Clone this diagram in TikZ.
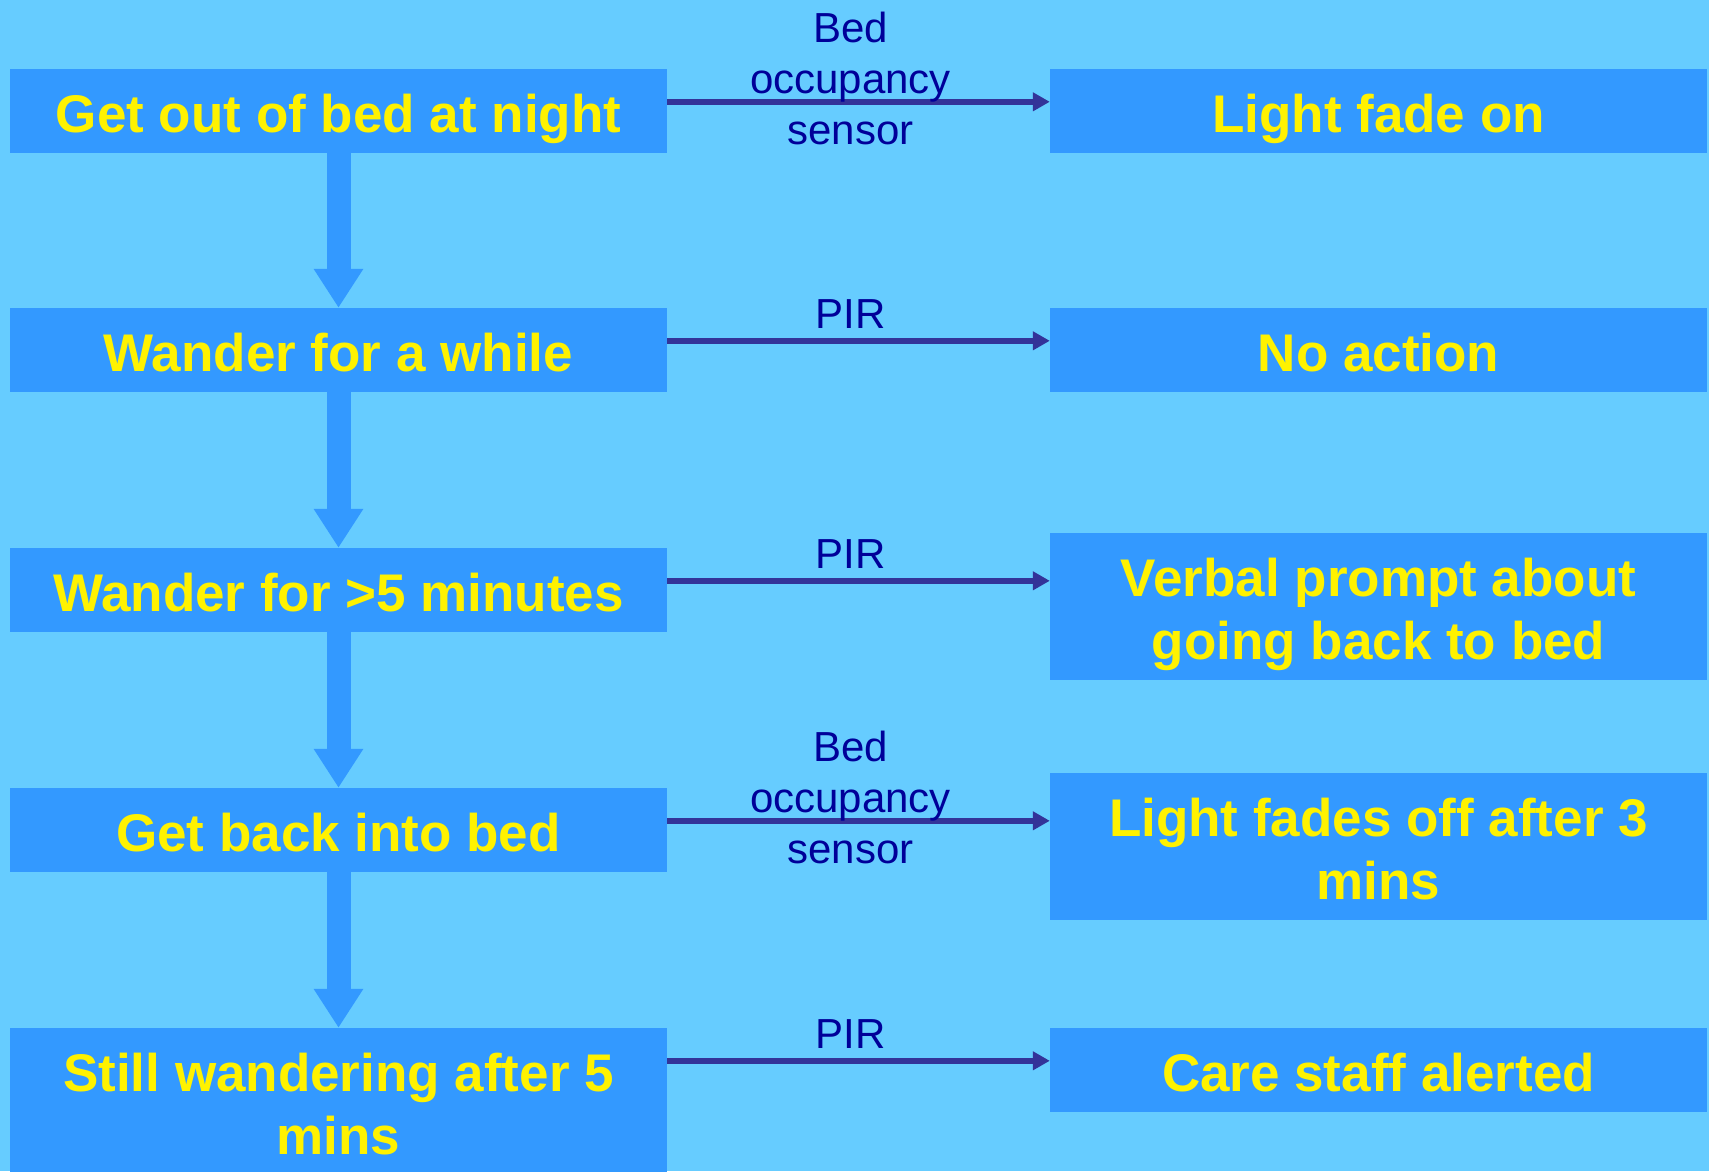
\documentclass[tikz,border=0pt]{standalone}
\usepackage{fontspec}
\setmainfont{Liberation Sans}
\usetikzlibrary{arrows.meta,positioning,calc}
\definecolor{bgblue}{HTML}{66CCFF}
\definecolor{boxblue}{HTML}{3399FF}
\definecolor{lblblue}{HTML}{000099}
\definecolor{linkblue}{HTML}{333399}

\begin{document}
\begin{tikzpicture}[%
    x=1pt, y=-1pt,
    box/.style={fill=boxblue, text=yellow, font={\fontsize{53}{63}\selectfont\bfseries},
        minimum width=657pt, minimum height=84pt, inner sep=0pt, align=center,
        text height=55pt, text depth=13pt},
    tall/.style={box, minimum height=147pt, text height=118pt},
    lbl/.style={text=lblblue, font={\fontsize{42}{51}\selectfont}, align=center, inner sep=0pt, xshift=-8pt},
    link/.style={draw=linkblue, line width=6pt, -{Triangle[length=17pt,width=18pt]}},
    down/.style={draw=boxblue, line width=24pt, -{Triangle[length=39pt,width=47pt]}}
    ]

    \fill[bgblue] (0,0) rectangle (1709,1171);
    \useasboundingbox (0,0) rectangle (1709,1171);

    % what the resident does
    \node[box]  (get)    at (338.5,111)    {Get out of bed at night};
    \node[box]  (wander) at (338.5,350)    {Wander for a while};
    \node[box]  (long)   at (338.5,590)    {Wander for >5 minutes};
    \node[box]  (back)   at (338.5,830)    {Get back into bed};
    \node[tall] (still)  at (338.5,1101.5) {Still wandering after 5\\mins};

    % what the system does
    \node[box]  (light)   at (1378.5,111)   {Light fade on};
    \node[box]  (noact)   at (1378.5,350)   {No action};
    \node[tall] (prompt)  at (1378.5,606.5) {Verbal prompt about\\going back to bed};
    \node[tall] (fadeoff) at (1378.5,846.5) {Light fades off after 3\\mins};
    \node[box]  (alert)   at (1378.5,1070)  {Care staff alerted};

    \draw[down] (get) -- (wander);
    \draw[down] (wander) -- (long);
    \draw[down] (long) -- (back);
    \draw[down] (back) -- (still);

    \coordinate (s1) at ([yshift=-33pt]get.north east);
    \coordinate (s2) at ([yshift=-33pt]wander.north east);
    \coordinate (s3) at ([yshift=-33pt]long.north east);
    \coordinate (s4) at ([yshift=-33pt]back.north east);
    \coordinate (s5) at ([yshift=-33pt]still.north east);

    \draw[link] (s1) -- (s1 -| light.west)
        node[lbl, midway, yshift=23pt] {Bed\\occupancy\\sensor};
    \draw[link] (s2) -- (s2 -| noact.west)
        node[lbl, midway, yshift=27pt] {PIR};
    \draw[link] (s3) -- (s3 -| prompt.west)
        node[lbl, midway, yshift=27pt] {PIR};
    \draw[link] (s4) -- (s4 -| fadeoff.west)
        node[lbl, midway, yshift=23pt] {Bed\\occupancy\\sensor};
    \draw[link] (s5) -- (s5 -| alert.west)
        node[lbl, midway, yshift=27pt] {PIR};
\end{tikzpicture}
\end{document}
